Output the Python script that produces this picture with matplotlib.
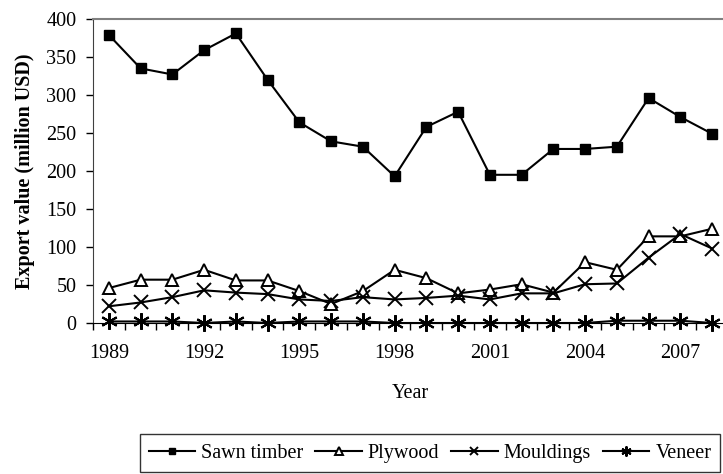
import matplotlib
matplotlib.use("Agg")
import matplotlib.pyplot as plt
from matplotlib.ticker import FixedLocator

years = list(range(1989, 2009))
sawn_timber = [379, 335, 327, 359, 381, 320, 264, 239, 232, 193,
               258, 278, 195, 195, 229, 229, 232, 296, 271, 249]
plywood = [46, 57, 57, 70, 56, 56, 42, 25, 42, 70,
           59, 39, 44, 51, 40, 80, 70, 114, 114, 124]
mouldings = [22, 27, 34, 43, 40, 38, 31, 29, 34, 31,
             33, 36, 31, 39, 39, 51, 52, 86, 117, 98]
veneer = [2, 2, 2, 0, 2, 0, 2, 2, 2, 0,
          0, 0, 0, 0, 0, 0, 3, 3, 3, 0]
xtick_labels = [1989, 1992, 1995, 1998, 2001, 2004, 2007]

plt.rcParams['font.family'] = ['Liberation Serif', 'DejaVu Serif']
fs = 14.5

fig = plt.figure(figsize=(7.23, 4.74), dpi=100)
W, H = 723, 474
left, right, top, bottom = 93, 728, 19, 323
ax = fig.add_axes([left / W, 1 - bottom / H, (right - left) / W, (bottom - top) / H])

lw = 1.5
ax.plot(years, sawn_timber, color='black', lw=lw, marker='s', ms=7.5,
        mfc='black', mec='black', label='Sawn timber', clip_on=False)
ax.plot(years, plywood, color='black', lw=lw, marker='^', ms=9,
        mfc='white', mec='black', mew=1.4, label='Plywood', clip_on=False)
ax.plot(years, mouldings, color='black', lw=lw, marker='x', ms=10,
        mec='black', mew=1.4, label='Mouldings', clip_on=False)
ax.plot(years, veneer, color='black', lw=lw, marker=(6, 2, 0), ms=12,
        mec='black', mew=1.5, label='Veneer', clip_on=False)

ax.set_xlim(1988.5, 2008.5)
ax.set_ylim(0, 400)
ax.set_yticks(range(0, 401, 50))
ax.set_xticks(xtick_labels)
ax.set_xticklabels([str(y) for y in xtick_labels])
ax.xaxis.set_minor_locator(FixedLocator([y + 0.5 for y in range(1988, 2009)]))
ax.tick_params(axis='x', which='major', length=0, labelsize=fs, pad=15, colors='black')
ax.tick_params(axis='x', which='minor', length=5, width=1, direction='out')
ax.tick_params(axis='y', length=5, width=1, direction='out', labelsize=fs, pad=7)

ax.spines['right'].set_visible(False)
ax.spines['top'].set_color('#808080')
ax.spines['top'].set_linewidth(1.5)
ax.spines['left'].set_color('#404040')
ax.spines['bottom'].set_color('black')

ax.set_xlabel('Year', fontsize=fs, labelpad=15)
ax.set_ylabel('Export value (million USD)', fontsize=fs, fontweight='bold', labelpad=8)

leg = fig.legend(loc='center', bbox_to_anchor=(430 / W, 1 - 453 / H), ncol=4,
                 frameon=True, fancybox=False, edgecolor='black', fontsize=fs,
                 handlelength=2.3, handletextpad=0.3, columnspacing=0.6,
                 borderpad=0.45, markerscale=0.6)
leg.get_frame().set_linewidth(1.0)

fig.savefig('out.png', dpi=100)
